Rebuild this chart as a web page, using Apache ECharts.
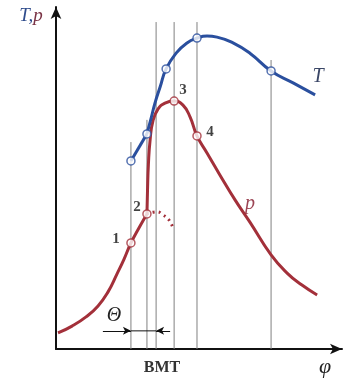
<!DOCTYPE html>
<html><head><meta charset="utf-8">
<script src="https://cdn.jsdelivr.net/npm/echarts@6/dist/echarts.min.js"></script>
<style>html,body{margin:0;padding:0;background:#fff}#c{width:358px;height:382px}</style>
</head><body><div id="c"></div>
<script>
// crank angle (phi) vs. temperature / pressure, arbitrary units 0..100
const pressureRise = [[0.7,4.7],[5.6,6.7],[10.5,9.4],[14.7,12.6],[18.2,16.7],[21.3,21.9],[23.8,26.3],[26.2,31.0],[29.0,35.4],[31.8,39.5]];
const pressureMain = [[31.8,39.5],[32.0,46.5],[32.3,53.8],[32.9,61.1],[33.9,66.7],[35.7,70.2],[38.1,71.9],[41.3,72.5],[44.4,71.3],[46.9,67.8],[49.3,62.3],[52.8,57.3],[57.3,50.9],[62.6,43.6],[67.8,37.1],[75.2,27.5],[80.8,22.2],[86.0,18.7],[91.3,15.8]];
const pressureNoIgnition = [[31.8,39.5],[35.3,40.1],[37.4,39.2],[39.2,38.0],[40.2,36.8],[40.9,35.4]];
const tempCompression = [[26.2,55.0],[31.8,62.9]];
const tempMain = [[31.8,62.9],[33.2,67.3],[34.6,71.9],[36.4,76.6],[38.5,81.9],[42.0,86.5],[45.8,89.5],[49.3,90.9],[52.8,91.5],[56.3,91.2],[61.9,89.5],[67.8,86.5],[75.2,81.3],[82.9,77.8],[90.6,74.3]];
const tempPoints = [[26.2,55.0],[31.8,62.9],[38.5,81.9],[49.3,90.9],[75.2,81.3]];
const pressurePoints = [[26.2,31.0],[31.8,39.5],[41.3,72.5],[49.3,62.3]];
const pointLabels = ['1','2','3','4'];
const guideX = [26.2,31.8,35.0,41.3,49.3,75.2];
const guideTop = [60.5,67.0,95.6,95.6,95.6,84.5];
const thetaY = 5.3;
const thetaFrom = 16.4, thetaTo = 39.9, thetaStart = 26.2, thetaEnd = 35.0;

const RED = '#a3303a', BLUE = '#2a4f9e';
const serif = '"Liberation Serif", "DejaVu Serif", serif';
const labelOffsets = [[-15,-4],[-10,-7],[9,-11],[13,-4]];

const series = [];
guideX.forEach((x,i)=>{
  series.push({type:'line', data:[[x,0],[x,guideTop[i]]], symbol:'none', silent:true,
    lineStyle:{color:'#808080', width:1}, z:1});
});
series.push({type:'line', data:[[thetaStart,thetaY],[thetaEnd,thetaY]], symbol:'none',
  lineStyle:{color:'#111', width:1}, z:2,
  markLine:{silent:true, symbol:['none','arrow'], symbolSize:[6,8], label:{show:false},
    lineStyle:{color:'#111', width:1, type:'solid'},
    data:[[{coord:[thetaFrom,thetaY]},{coord:[thetaStart,thetaY]}],[{coord:[thetaTo,thetaY]},{coord:[thetaEnd,thetaY]}]]}});
series.push({type:'line', data:pressureRise, smooth:0.5, symbol:'none', lineStyle:{color:RED, width:3}, z:3});
series.push({type:'line', data:pressureMain, smooth:0.5, symbol:'none', lineStyle:{color:RED, width:3}, z:3});
series.push({type:'line', data:pressureNoIgnition, smooth:0.5, symbol:'none', lineStyle:{color:RED, width:3, type:[2,4]}, z:3});
series.push({type:'line', data:tempCompression, symbol:'none', lineStyle:{color:BLUE, width:3}, z:3});
series.push({type:'line', data:tempMain, smooth:0.5, symbol:'none', lineStyle:{color:BLUE, width:3}, z:3});
series.push({type:'scatter', data:tempPoints, symbol:'circle', symbolSize:8,
  itemStyle:{color:'#fff', borderColor:BLUE, borderWidth:1.5}, z:5});
series.push({type:'scatter', data:pressurePoints.map((p,i)=>({value:p,
  label:{show:true, formatter:pointLabels[i], offset:labelOffsets[i]}})), symbol:'circle', symbolSize:8,
  itemStyle:{color:'#fff', borderColor:RED, borderWidth:1.5},
  label:{position:'inside', color:'#111', fontFamily:serif, fontWeight:'bold', fontSize:15}, z:5});

const chart = echarts.init(document.getElementById('c'));
chart.setOption({
  animation:false,
  backgroundColor:'#fff',
  grid:{left:56, right:16, top:7, bottom:33},
  xAxis:{type:'value', min:0, max:100, axisLine:{show:true, symbol:['none','arrow'], symbolSize:[8,12], lineStyle:{color:'#111', width:2}},
    axisTick:{show:false}, axisLabel:{show:false}, splitLine:{show:false}},
  yAxis:{type:'value', min:0, max:100, axisLine:{show:true, symbol:['none','arrow'], symbolSize:[8,12], lineStyle:{color:'#111', width:2}},
    axisTick:{show:false}, axisLabel:{show:false}, splitLine:{show:false}},
  series:series,
  graphic:[
    {type:'text', x:31, y:16, style:{text:'{t|T,}{p|p}', align:'center', verticalAlign:'middle',
      rich:{t:{fill:'#2f4c8c', font:'italic 19px '+serif}, p:{fill:'#7a3345', font:'italic 19px '+serif}}}},
    {type:'text', x:325, y:367, style:{text:'φ', fill:'#222', font:'italic 22px '+serif, align:'center', verticalAlign:'middle'}},
    {type:'text', x:114, y:316, style:{text:'Θ', fill:'#222', font:'italic 20px '+serif, align:'center', verticalAlign:'middle'}},
    {type:'text', x:162, y:368, style:{text:'BMT', fill:'#333', font:'bold 16px '+serif, align:'center', verticalAlign:'middle'}},
    {type:'text', x:318, y:77, style:{text:'T', fill:'#3a4666', font:'italic 20px '+serif, align:'center', verticalAlign:'middle'}},
    {type:'text', x:250, y:204, style:{text:'p', fill:'#9c4555', font:'italic 20px '+serif, align:'center', verticalAlign:'middle'}}
  ]
});
</script></body></html>
